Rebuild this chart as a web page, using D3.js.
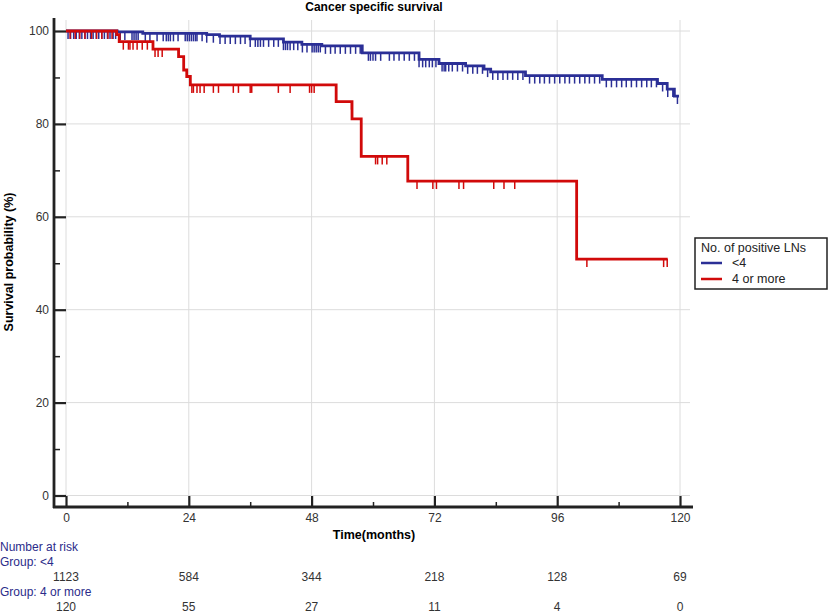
<!DOCTYPE html>
<html>
<head>
<meta charset="utf-8">
<script src="https://cdn.jsdelivr.net/npm/d3@7/dist/d3.min.js"></script>
<style>
  body { margin: 0; background: #fff; }
  svg { display: block; font-family: Arial, 'Liberation Sans', sans-serif; }
</style>
</head>
<body>
<svg id="chart" width="830" height="613"></svg>
<script>
// Kaplan-Meier steps (months, survival %)
const lowTimes = [0, 10, 15, 27.5, 30, 36, 42.5, 46.1, 50, 57.9, 69, 72.9, 78.1, 81.7, 83, 89.8, 104.8, 115.6, 117.5, 118.9]
const lowSurv = [100, 99.8, 99.5, 99.2, 98.9, 98.3, 97.6, 97.1, 96.8, 95.3, 93.9, 93.0, 92.5, 91.8, 91.2, 90.4, 89.6, 88.7, 87.5, 86.0]
const lowEnd = 119.8

const highTimes = [0, 9.9, 10.4, 17.0, 22.0, 23.0, 23.6, 24.3, 52.8, 55.9, 57.7, 66.8, 99.8]
const highSurv = [100, 99.2, 97.7, 96.1, 94.5, 91.6, 90.2, 88.4, 84.8, 81.1, 73.0, 67.7, 50.9]
const highEnd = 117.6

// censored observations (months)
const lowCensor = [
  0.4, 0.9, 1.5, 2.0, 2.6, 3.1, 3.7, 4.2, 4.8, 5.3, 5.9, 6.4, 7.0, 7.5, 8.1, 8.6, 9.2, 9.7,
  10.6, 11.5, 12.9, 13.3, 13.7, 14.1, 15.5, 16.4, 17.8, 19.0, 19.6, 20.0, 20.4, 21.0, 21.9,
  23.3, 23.7, 24.1, 24.5, 24.9, 25.3, 25.6, 26.6, 27.5, 28.8, 30.1, 31.1, 32.1, 33.1, 34.1,
  35.0, 36.0, 37.0, 37.5, 38.0, 38.6, 39.6, 40.6, 41.5, 42.5, 42.9, 43.3, 43.8, 44.5, 45.3,
  46.2, 47.1, 48.1, 48.5, 48.9, 49.3, 49.7, 50.7, 51.7, 52.6, 53.6, 54.6, 55.6, 56.6, 57.5,
  59.1, 59.5, 60.0, 60.5, 61.5, 63.2, 64.1, 65.1, 66.1, 67.1, 68.1, 69.0, 69.7, 70.3, 71.0,
  71.6, 72.3, 73.5, 73.9, 74.2, 74.8, 75.5, 76.5, 77.5, 78.5, 79.5, 80.4, 81.4, 82.4,
  83.4, 84.4, 85.4, 86.3, 87.3, 88.3, 89.3, 90.6, 91.6, 92.6, 93.5, 94.5, 95.5, 96.5, 97.5,
  98.4, 99.4, 100.4, 101.4, 102.3, 103.3, 104.3, 105.6, 106.6, 107.6, 108.6, 109.5, 110.5,
  111.5, 112.5, 113.5, 114.4, 115.4, 116.6, 117.6, 118.6, 119.5
]
const highCensor = [
  0.8, 1.8, 2.7, 3.7, 5.0, 6.0, 7.0, 8.2, 9.0,
  11.2, 12.2, 12.5, 13.1, 13.9, 14.9, 15.9, 17.4, 18.0, 18.8,
  24.6, 24.9, 25.6, 26.2, 27.0, 28.8, 29.8, 32.7, 33.7, 36.0, 36.3, 41.5, 43.8, 47.6, 48.0, 48.5,
  55.8, 60.5, 60.9, 61.8, 62.7,
  68.6, 71.7, 72.4, 76.8, 77.7, 83.6, 85.6, 87.7,
  101.8, 116.8, 117.5
]

// number at risk table
const riskTimes = [0, 24, 48, 72, 96, 120]
const riskLow = [1123, 584, 344, 218, 128, 69]
const riskHigh = [120, 55, 27, 11, 4, 0]

const xMajor = [0, 24, 48, 72, 96, 120]
const xMinor = [12, 36, 60, 84, 108]
const yMajor = [0, 20, 40, 60, 80, 100]
const yMinor = [10, 30, 50, 70, 90]

const groups = [
  { label: '<4', color: '#2b2f96', times: lowTimes, surv: lowSurv, end: lowEnd, censor: lowCensor },
  { label: '4 or more', color: '#d10a0a', times: highTimes, surv: highSurv, end: highEnd, censor: highCensor },
]

const svg = d3.select('#chart')
const x = d3.scaleLinear().domain([0, 120]).range([66, 680])
const y = d3.scaleLinear().domain([0, 100]).range([495.5, 31])

const axisColor = '#222'
const textColor = '#333'

function survivalAt(g, t) {
  const i = d3.bisectRight(g.times, t) - 1
  return g.surv[Math.max(0, i)]
}

// grid
const grid = svg.append('g').attr('stroke', '#dcdcdc').attr('stroke-width', 1)
grid.selectAll('line.h')
  .data(yMajor)
  .join('line')
  .attr('class', 'h')
  .attr('x1', x(0)).attr('x2', 690)
  .attr('y1', (d) => y(d)).attr('y2', (d) => y(d))
grid.selectAll('line.v')
  .data(xMajor)
  .join('line')
  .attr('class', 'v')
  .attr('x1', (d) => x(d)).attr('x2', (d) => x(d))
  .attr('y1', 20).attr('y2', y(0))

// y axis (ticks point into the plot)
const yAxis = svg.append('g')
  .attr('transform', 'translate(54,0)')
  .call(d3.axisLeft(y).tickValues(yMajor).tickSize(-12).tickPadding(5))
yAxis.select('.domain').remove()
yAxis.selectAll('line').attr('stroke', axisColor).attr('stroke-width', 2.2)
yAxis.selectAll('text').attr('fill', textColor).style('font-size', '12px')

const yMinorAxis = svg.append('g')
  .attr('transform', 'translate(54,0)')
  .call(d3.axisLeft(y).tickValues(yMinor).tickSize(-6).tickFormat(''))
yMinorAxis.select('.domain').remove()
yMinorAxis.selectAll('line').attr('stroke', axisColor).attr('stroke-width', 1.5)

// x axis (ticks point up)
const xAxis = svg.append('g')
  .attr('transform', 'translate(0,507)')
  .call(d3.axisBottom(x).tickValues(xMajor).tickSize(-11).tickPadding(6))
xAxis.select('.domain').remove()
xAxis.selectAll('line').attr('stroke', axisColor).attr('stroke-width', 2.2)
xAxis.selectAll('text').attr('fill', textColor).style('font-size', '12px')

const xMinorAxis = svg.append('g')
  .attr('transform', 'translate(0,507)')
  .call(d3.axisBottom(x).tickValues(xMinor).tickSize(-5).tickFormat(''))
xMinorAxis.select('.domain').remove()
xMinorAxis.selectAll('line').attr('stroke', axisColor).attr('stroke-width', 1.5)

// axis lines
svg.append('line')
  .attr('x1', 54).attr('x2', 54).attr('y1', 18).attr('y2', 508)
  .attr('stroke', axisColor).attr('stroke-width', 2.8)
svg.append('line')
  .attr('x1', 53).attr('x2', 693).attr('y1', 507).attr('y2', 507)
  .attr('stroke', axisColor).attr('stroke-width', 2.8)

// curves
const line = d3.line()
  .x((d) => x(d[0]))
  .y((d) => y(d[1]))
  .curve(d3.curveStepAfter)

groups.forEach((g) => {
  const pts = g.times.map((t, i) => [t, g.surv[i]])
  pts.push([g.end, g.surv[g.surv.length - 1]])

  const layer = svg.append('g').attr('class', 'km')

  layer.append('path')
    .datum(pts)
    .attr('d', line)
    .attr('fill', 'none')
    .attr('stroke', g.color)
    .attr('stroke-width', 2.8)

  // censor marks hang below the curve
  layer.selectAll('line.censor')
    .data(g.censor)
    .join('line')
    .attr('class', 'censor')
    .attr('x1', (d) => x(d)).attr('x2', (d) => x(d))
    .attr('y1', (d) => y(survivalAt(g, d)))
    .attr('y2', (d) => y(survivalAt(g, d)) + 8)
    .attr('stroke', g.color)
    .attr('stroke-width', 1.5)
})

// titles
svg.append('text')
  .attr('x', 374).attr('y', 11)
  .attr('text-anchor', 'middle')
  .style('font-size', '12px').style('font-weight', 'bold')
  .text('Cancer specific survival')

svg.append('text')
  .attr('transform', 'translate(12.5,262) rotate(-90)')
  .attr('text-anchor', 'middle')
  .style('font-size', '12.5px').style('font-weight', 'bold')
  .text('Survival probability (%)')

svg.append('text')
  .attr('x', 374).attr('y', 539)
  .attr('text-anchor', 'middle')
  .style('font-size', '12.5px').style('font-weight', 'bold')
  .text('Time(months)')

// legend
const legend = svg.append('g').attr('transform', 'translate(695,238)')
legend.append('rect')
  .attr('width', 132).attr('height', 51)
  .attr('fill', '#fff')
  .attr('stroke', '#222').attr('stroke-width', 1.5)
legend.append('text')
  .attr('x', 6).attr('y', 14)
  .style('font-size', '12.5px').attr('fill', '#222')
  .text('No. of positive LNs')
const items = legend.selectAll('g.item')
  .data(groups)
  .join('g')
  .attr('class', 'item')
  .attr('transform', (d, i) => `translate(6,${25 + i * 16})`)
items.append('line')
  .attr('x1', 0).attr('x2', 21)
  .attr('stroke', (d) => d.color).attr('stroke-width', 2.5)
items.append('text')
  .attr('x', 31).attr('y', 4)
  .style('font-size', '12.5px').attr('fill', '#222')
  .text((d) => d.label)

// number at risk
const labelColor = '#2b2b8a'
const risk = svg.append('g').style('font-size', '12px')
const rows = [
  { text: 'Number at risk', y: 551 },
  { text: 'Group: <4', y: 566 },
  { text: 'Group: 4 or more', y: 596 },
]
risk.selectAll('text.rowlabel')
  .data(rows)
  .join('text')
  .attr('class', 'rowlabel')
  .attr('x', 0).attr('y', (d) => d.y)
  .attr('fill', labelColor)
  .text((d) => d.text)

risk.selectAll('text.low')
  .data(riskLow)
  .join('text')
  .attr('class', 'low')
  .attr('x', (d, i) => x(riskTimes[i])).attr('y', 581)
  .attr('text-anchor', 'middle').attr('fill', textColor)
  .text((d) => d)

risk.selectAll('text.high')
  .data(riskHigh)
  .join('text')
  .attr('class', 'high')
  .attr('x', (d, i) => x(riskTimes[i])).attr('y', 611)
  .attr('text-anchor', 'middle').attr('fill', textColor)
  .text((d) => d)
</script>
</body>
</html>
